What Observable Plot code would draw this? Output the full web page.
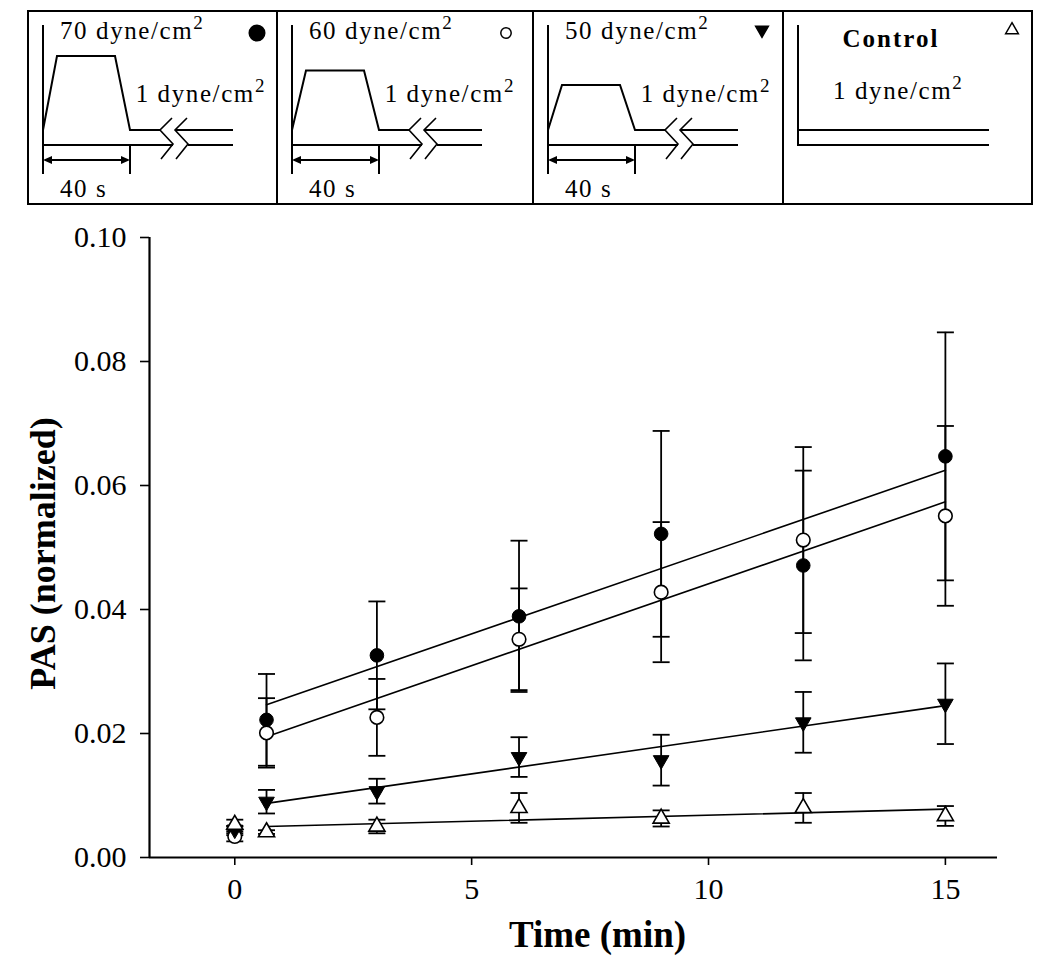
<!DOCTYPE html>
<html><head><meta charset="utf-8">
<script src="https://cdn.jsdelivr.net/npm/d3@7"></script>
<script src="https://cdn.jsdelivr.net/npm/@observablehq/plot@0.6"></script>
<style>
body{margin:0;background:#fff;}
#legend svg,#chart svg{display:block;}
</style></head><body>
<div id="legend"></div><div id="chart"></div>
<script>
// ---- data ----
const times = [0, 0.67, 3, 6, 9, 12, 15];
const seriesNames = ["70 dyne/cm2", "60 dyne/cm2", "50 dyne/cm2", "Control"];
const pas70 = [0.0043, 0.0222, 0.0326, 0.0389, 0.0522, 0.0471, 0.0647];
const err70 = [0.0007, 0.0074, 0.0087, 0.0122, 0.0166, 0.0153, 0.0200];
const pas60 = [0.0034, 0.0201, 0.0226, 0.0352, 0.0428, 0.0512, 0.0551];
const err60 = [0.0008, 0.0056, 0.0062, 0.0082, 0.0113, 0.0150, 0.0145];
const pas50 = [0.0045, 0.0090, 0.0107, 0.0162, 0.0157, 0.0218, 0.0248];
const err50 = [0.0006, 0.0019, 0.0020, 0.0032, 0.0041, 0.0049, 0.0065];
const pasCtl = [0.0053, 0.0041, 0.0050, 0.0080, 0.0063, 0.0080, 0.0067];
const errCtl = [0.0008, 0.0003, 0.0011, 0.0024, 0.0013, 0.0024, 0.0016];
const xTicks = [0, 5, 10, 15];
const yTicks = [0, 0.02, 0.04, 0.06, 0.08, 0.10];
const xDomain = [-1.8, 16.1];
const yDomain = [0, 0.1];
// legend panels
const legendTitles = ["70", "60", "50", "Control"];
const legendPeaks = [70, 60, 50, null];
const legendSymbols = ["circle", "circle", "triangle", "triangle"];
const legendFilled = [true, false, true, false];

// ---- legend (schematic shear profiles) ----
const F = "'Liberation Serif','Times New Roman',serif";
const LS = "1.6px";
const lg = d3.select("#legend").append("svg").attr("width", 1050).attr("height", 210);
const panelLeft = [28, 277, 533, 783], panelRight = 1032, boxTop = 11, boxBottom = 204;
const peakY = d3.scaleLinear().domain([50, 70]).range([85, 56]);
lg.append("rect").attr("x", panelLeft[0]).attr("y", boxTop).attr("width", panelRight - panelLeft[0]).attr("height", boxBottom - boxTop)
  .attr("fill", "none").attr("stroke", "black").attr("stroke-width", 2);
panelLeft.slice(1).forEach(x => lg.append("line").attr("x1", x).attr("x2", x).attr("y1", boxTop).attr("y2", boxBottom).attr("stroke", "black").attr("stroke-width", 2));
function dyneText(g, x, y, lead, anchor) {
  const t = g.append("text").attr("x", x).attr("y", y).attr("font-family", F).attr("font-size", 25)
    .attr("letter-spacing", LS).attr("text-anchor", anchor || "start");
  t.append("tspan").text(lead + " dyne/cm");
  t.append("tspan").attr("dy", -10).attr("font-size", 19).text("2");
}
panelLeft.forEach((L, i) => {
  const g = lg.append("g").attr("fill", "none").attr("stroke", "black").attr("stroke-width", 2);
  const A = L + 15;
  const tg = lg.append("g").attr("fill", "black");
  if (legendPeaks[i] != null) {
    const py = peakY(legendPeaks[i]);
    g.append("line").attr("x1", A).attr("x2", A).attr("y1", 25).attr("y2", 174);
    g.append("path").attr("d", `M${A},130L${A + 14},${py}L${A + 72},${py}L${A + 87},130L${A + 117},130M${A + 132},130L${A + 190},130`);
    g.append("path").attr("d", `M${A},145L${A + 130},145M${A + 145},145L${A + 190},145`);
    [0, 15].forEach(o => g.append("path").attr("stroke-width", 1.6)
      .attr("d", `M${A + 129 + o},118L${A + 117 + o},130L${A + 130 + o},144L${A + 118 + o},159`));
    g.append("line").attr("x1", A + 2).attr("x2", A + 85).attr("y1", 160).attr("y2", 160);
    g.append("line").attr("x1", A + 87).attr("x2", A + 87).attr("y1", 145).attr("y2", 174);
    tg.append("path").attr("d", `M${A},160L${A + 9},156L${A + 9},164Z`);
    tg.append("path").attr("d", `M${A + 87},160L${A + 78},156L${A + 78},164Z`);
    dyneText(tg, A + 17, 39, legendTitles[i]);
    dyneText(tg, L + 238, 102, "1", "end");
    tg.append("text").attr("x", A + 17).attr("y", 197).attr("font-family", F).attr("font-size", 25)
      .attr("letter-spacing", LS).text("40 s");
  } else {
    g.append("path").attr("d", `M${A},25L${A},145L${A + 191},145M${A},130L${A + 191},130`);
    tg.append("text").attr("x", 891).attr("y", 47).attr("font-family", F).attr("font-size", 25).attr("font-weight", "bold")
      .attr("letter-spacing", "2px").attr("text-anchor", "middle").text(legendTitles[i]);
    dyneText(tg, A + 35, 99, "1");
  }
  const sym = legendSymbols[i] === "circle" ? d3.symbolCircle : d3.symbolTriangle;
  const size = legendSymbols[i] === "circle" ? (legendFilled[i] ? 190 : 85) : 70;
  const rot = i === 2 ? 180 : 0;
  lg.append("path").attr("d", d3.symbol(sym, size)())
    .attr("transform", `translate(${L + 229},${legendSymbols[i] === "circle" ? 33 : 30}) rotate(${rot})`)
    .attr("fill", legendFilled[i] ? "black" : "white").attr("stroke", "black").attr("stroke-width", 1.5);
});

// ---- main chart ----
const vals = [pas70, pas60, pas50, pasCtl];
const errs = [err70, err60, err50, errCtl];
const rows = [];
seriesNames.forEach((s, k) => times.forEach((t, i) => rows.push({series: s, t, v: vals[k][i], e: errs[k][i]})));
const cap = {draw(ctx, size) { const w = Math.sqrt(size / Math.PI); ctx.moveTo(-w, 0); ctx.lineTo(w, 0); }};
const bySeries = s => rows.filter(d => d.series === s);
const plot = Plot.plot({
  width: 1050, height: 756,
  marginLeft: 149, marginRight: 53, marginTop: 27, marginBottom: 109,
  style: {fontFamily: F, fontSize: "30px", color: "black", background: "white"},
  x: {domain: xDomain},
  y: {domain: yDomain},
  marks: [
    Plot.axisX({ticks: xTicks, tickSize: 8, tickPadding: 12, fontSize: 30, label: null, strokeWidth: 1.6}),
    Plot.axisY({ticks: yTicks, tickSize: 9, tickPadding: 14, fontSize: 30, tickFormat: d3.format(".2f"), label: null, strokeWidth: 1.6}),
    Plot.ruleY([yDomain[0]], {strokeWidth: 2.2}),
    Plot.ruleX([xDomain[0]], {strokeWidth: 2.2}),
    Plot.linearRegressionY(rows.filter(d => d.t > 0), {x: "t", y: "v", z: "series", stroke: "black", strokeWidth: 1.6, ci: 0}),
    Plot.ruleX(rows, {x: "t", y1: d => d.v - d.e, y2: d => d.v + d.e, stroke: "black", strokeWidth: 1.8}),
    Plot.dot(rows, {x: "t", y: d => d.v - d.e, symbol: cap, r: 8.5, stroke: "black", strokeWidth: 1.8}),
    Plot.dot(rows, {x: "t", y: d => d.v + d.e, symbol: cap, r: 8.5, stroke: "black", strokeWidth: 1.8}),
    Plot.dot(bySeries(seriesNames[0]), {x: "t", y: "v", symbol: "circle", r: 6.8, fill: "black", stroke: "black", strokeWidth: 1}),
    Plot.dot(bySeries(seriesNames[1]), {x: "t", y: "v", symbol: "circle", r: 6.8, fill: "white", stroke: "black", strokeWidth: 1.6}),
    Plot.dot(bySeries(seriesNames[2]), {x: "t", y: "v", symbol: "triangle", rotate: 180, r: 5.8, fill: "black", stroke: "black", strokeWidth: 1}),
    Plot.dot(bySeries(seriesNames[3]), {x: "t", y: "v", symbol: "triangle", r: 6, fill: "white", stroke: "black", strokeWidth: 1.6}),
    Plot.text(["Time (min)"], {text: d => d, frameAnchor: "bottom", dx: 24, dy: 89, lineAnchor: "bottom", fontSize: 37, fontWeight: "bold"}),
    Plot.text(["PAS (normalized)"], {text: d => d, frameAnchor: "left", textAnchor: "middle", dx: -106, dy: 6, rotate: -90, fontSize: 36, fontWeight: "bold"})
  ]
});
document.getElementById("chart").appendChild(plot);
</script>
</body></html>
